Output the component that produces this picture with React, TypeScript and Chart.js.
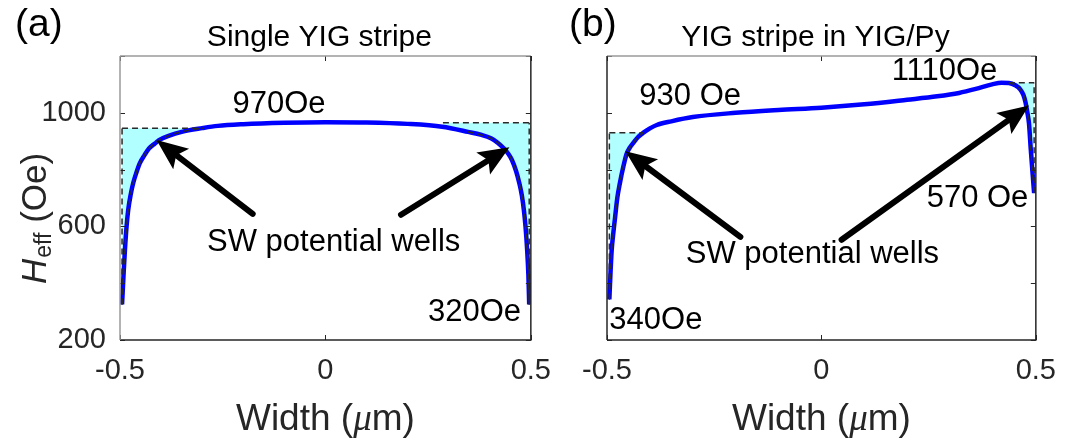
import React, { useEffect, useRef } from "react";
import { Chart, registerables } from "chart.js";

Chart.register(...registerables);

const FONT = '"Liberation Sans", Arial, Helvetica, sans-serif';
const SERIF = '"Liberation Serif", "Times New Roman", serif';

// axes
const xTickValues = [-0.5, 0, 0.5];
const yTickValues = [200, 400, 600, 800, 1000, 1200];
const yTickLabels = [200, 600, 1000];

// panel (a): single YIG stripe
const singleX = [-0.495, -0.491, -0.488, -0.484, -0.48, -0.474, -0.468, -0.46, -0.452, -0.44, -0.429, -0.415, -0.405, -0.38, -0.35, -0.3, -0.262, -0.2, -0.1, 0, 0.1, 0.2, 0.284, 0.347, 0.38, 0.403, 0.42, 0.434, 0.445, 0.454, 0.464, 0.472, 0.478, 0.483, 0.487, 0.491, 0.494, 0.496];
const singleH = [325, 440, 517, 600, 658, 712, 752, 790, 822, 852, 875, 892, 904, 920, 933, 946, 954, 960, 965, 967, 966, 961, 951, 933, 922, 910, 894, 875, 856, 834, 795, 752, 710, 658, 600, 517, 430, 325];
const singleWellStart = [-0.495, 0.286];
const singleWellEnd = [-0.296, 0.496];
const singleWellTop = [946, 965];
const singleNotes = ["970Oe", "SW potential wells", "320Oe"];
const singleNoteX = [-0.113, 0.02, 0.363];
const singleNoteY = [1031, 545, 298];
const singleArrowFromX = [-0.177, 0.184];
const singleArrowFromY = [644, 641];
const singleArrowToX = [-0.411, 0.448];
const singleArrowToY = [904, 879];

// panel (b): YIG stripe in YIG/Py
const pyX = [-0.4945, -0.492, -0.489, -0.485, -0.481, -0.476, -0.47, -0.462, -0.454, -0.447, -0.439, -0.428, -0.415, -0.4, -0.384, -0.35, -0.3, -0.2, -0.1, 0, 0.1, 0.2, 0.27, 0.321, 0.36, 0.398, 0.42, 0.437, 0.452, 0.464, 0.471, 0.476, 0.48, 0.484, 0.488, 0.493, 0.496];
const pyH = [343, 430, 517, 580, 634, 700, 752, 810, 857, 877, 893, 914, 930, 945, 957, 970, 985, 1000, 1010, 1018, 1030, 1046, 1058, 1070, 1084, 1100, 1106, 1105, 1097, 1082, 1063, 1036, 1003, 963, 875, 775, 717];
const pyWellStart = [-0.4945, 0.437];
const pyWellEnd = [-0.415, 0.496];
const pyWellTop = [930, 1106];
const pyNotes = ["930 Oe", "1110Oe", "570 Oe", "340Oe", "SW potential wells"];
const pyNoteX = [-0.306, 0.287, 0.364, -0.386, -0.021];
const pyNoteY = [1056, 1147, 697, 270, 500];
const pyArrowFromX = [-0.189, 0.047];
const pyArrowFromY = [563, 553];
const pyArrowToX = [-0.457, 0.484];
const pyArrowToY = [865, 1026];

const BLUE = "#0000ff";
const CYAN = "rgb(178,255,255)";
const DASH = "#2a2a2a";
const AXIS = "#262626";

type Panel = {
  letter: string;
  title: string;
  xs: number[];
  hs: number[];
  wellStart: number[];
  wellEnd: number[];
  wellTop: number[];
  notes: string[];
  noteX: number[];
  noteY: number[];
  arrowFromX: number[];
  arrowFromY: number[];
  arrowToX: number[];
  arrowToY: number[];
  showYLabels: boolean;
  leftBorderColor: string;
  yAxisWidth: number;
  xAxisHeight: number;
  padding: { left: number; right: number; top: number; bottom: number };
  letterX: number;
};

const panelA: Panel = {
  letter: "(a)",
  title: "Single YIG stripe",
  xs: singleX,
  hs: singleH,
  wellStart: singleWellStart,
  wellEnd: singleWellEnd,
  wellTop: singleWellTop,
  notes: singleNotes,
  noteX: singleNoteX,
  noteY: singleNoteY,
  arrowFromX: singleArrowFromX,
  arrowFromY: singleArrowFromY,
  arrowToX: singleArrowToX,
  arrowToY: singleArrowToY,
  showYLabels: true,
  leftBorderColor: "#9a9a9a",
  yAxisWidth: 120,
  xAxisHeight: 102,
  padding: { left: 0, right: 24, top: 56, bottom: 0 },
  letterX: 15,
};

const panelB: Panel = {
  letter: "(b)",
  title: "YIG stripe in YIG/Py",
  xs: pyX,
  hs: pyH,
  wellStart: pyWellStart,
  wellEnd: pyWellEnd,
  wellTop: pyWellTop,
  notes: pyNotes,
  noteX: pyNoteX,
  noteY: pyNoteY,
  arrowFromX: pyArrowFromX,
  arrowFromY: pyArrowFromY,
  arrowToX: pyArrowToX,
  arrowToY: pyArrowToY,
  showYLabels: false,
  leftBorderColor: AXIS,
  yAxisWidth: 42,
  xAxisHeight: 102,
  padding: { left: 0, right: 33, top: 56, bottom: 0 },
  letterX: 4,
};

function drawArrow(ctx: CanvasRenderingContext2D, x0: number, y0: number, x1: number, y1: number) {
  const ang = Math.atan2(y1 - y0, x1 - x0);
  const c = Math.cos(ang);
  const s = Math.sin(ang);
  const headLen = 31;
  const headW = 26;
  const bx = x1 - headLen * c;
  const by = y1 - headLen * s;
  const nx = x1 - headLen * 0.8 * c;
  const ny = y1 - headLen * 0.8 * s;
  ctx.save();
  ctx.strokeStyle = "#000";
  ctx.fillStyle = "#000";
  ctx.lineWidth = 6;
  ctx.lineCap = "round";
  ctx.beginPath();
  ctx.moveTo(x0, y0);
  ctx.lineTo(nx, ny);
  ctx.stroke();
  ctx.beginPath();
  ctx.moveTo(x1, y1);
  ctx.lineTo(bx - (headW / 2) * s, by + (headW / 2) * c);
  ctx.lineTo(nx, ny);
  ctx.lineTo(bx + (headW / 2) * s, by - (headW / 2) * c);
  ctx.closePath();
  ctx.fill();
  ctx.restore();
}

const decorPlugin = {
  id: "decor",
  afterDraw(chart: any, _args: any, opts: any) {
    const p: Panel = opts.panel;
    const { ctx, chartArea: a } = chart;
    const xs = chart.scales.x;
    const ys = chart.scales.y;
    ctx.save();

    // inward tick marks on all four sides
    ctx.strokeStyle = AXIS;
    ctx.lineWidth = 1;
    const tl = 5;
    ctx.beginPath();
    xs.ticks.forEach((t: any) => {
      const px = Math.round(xs.getPixelForValue(t.value)) + 0.5;
      ctx.moveTo(px, a.bottom);
      ctx.lineTo(px, a.bottom - tl);
      ctx.moveTo(px, a.top);
      ctx.lineTo(px, a.top + tl);
    });
    ys.ticks.forEach((t: any) => {
      const py = Math.round(ys.getPixelForValue(t.value)) + 0.5;
      ctx.moveTo(a.left, py);
      ctx.lineTo(a.left + tl, py);
      ctx.moveTo(a.right, py);
      ctx.lineTo(a.right - tl, py);
    });
    ctx.stroke();

    // box
    ctx.lineWidth = 1.5;
    ctx.strokeStyle = "#9a9a9a";
    ctx.beginPath();
    ctx.moveTo(a.left, a.top);
    ctx.lineTo(a.right, a.top);
    ctx.stroke();
    ctx.strokeStyle = AXIS;
    ctx.beginPath();
    ctx.moveTo(a.right, a.top);
    ctx.lineTo(a.right, a.bottom);
    ctx.lineTo(a.left, a.bottom);
    ctx.stroke();
    ctx.strokeStyle = p.leftBorderColor;
    ctx.beginPath();
    ctx.moveTo(a.left, a.bottom);
    ctx.lineTo(a.left, a.top);
    ctx.stroke();

    // arrows
    p.arrowFromX.forEach((fx, i) => {
      drawArrow(
        ctx,
        xs.getPixelForValue(fx),
        ys.getPixelForValue(p.arrowFromY[i]),
        xs.getPixelForValue(p.arrowToX[i]),
        ys.getPixelForValue(p.arrowToY[i])
      );
    });

    // annotations
    ctx.fillStyle = "#000";
    ctx.font = `31px ${FONT}`;
    ctx.textAlign = "center";
    ctx.textBaseline = "middle";
    p.notes.forEach((txt, i) => {
      ctx.fillText(txt, xs.getPixelForValue(p.noteX[i]), ys.getPixelForValue(p.noteY[i]));
    });

    // title
    ctx.textBaseline = "alphabetic";
    ctx.font = `30px ${FONT}`;
    ctx.fillText(p.title, (a.left + a.right) / 2 - 6, 46);

    // panel letter
    ctx.textAlign = "left";
    ctx.font = `39px ${FONT}`;
    ctx.fillText(p.letter, p.letterX, 36);

    // x axis label: Width (μm)
    ctx.fillStyle = AXIS;
    const f1 = `37px ${FONT}`;
    const f2 = `italic 37px ${SERIF}`;
    const parts: [string, string][] = [["Width (", f1], ["\u03bc", f2], ["m)", f1]];
    let total = 0;
    const widths = parts.map(([t, f]) => {
      ctx.font = f;
      const w = ctx.measureText(t).width;
      total += w;
      return w;
    });
    let cx = (a.left + a.right) / 2 - total / 2;
    parts.forEach(([t, f], i) => {
      ctx.font = f;
      ctx.fillText(t, cx, 430);
      cx += widths[i];
    });

    // y axis label: H_eff (Oe)
    if (p.showYLabels) {
      ctx.save();
      ctx.translate(46, 284);
      ctx.rotate(-Math.PI / 2);
      ctx.textAlign = "left";
      ctx.font = `italic 35px ${FONT}`;
      ctx.fillText("H", 0, 0);
      let u = ctx.measureText("H").width + 1;
      ctx.font = `23px ${FONT}`;
      ctx.fillText("eff", u, 5);
      u += ctx.measureText("eff").width;
      ctx.font = `35px ${FONT}`;
      ctx.fillText(" (Oe)", u, 0);
      ctx.restore();
    }
    ctx.restore();
  },
};

function buildConfig(p: Panel): any {
  const pts = p.xs.map((x, i) => ({ x, y: p.hs[i] }));
  const datasets: any[] = [
    {
      data: pts,
      borderColor: BLUE,
      borderWidth: 4.5,
      pointRadius: 0,
      cubicInterpolationMode: "monotone",
      fill: false,
      order: 1,
    },
  ];
  p.wellStart.forEach((s, i) => {
    const e = p.wellEnd[i];
    const top = p.wellTop[i];
    const outer = Math.abs(s) > Math.abs(e) ? s : e;
    const edgeH = outer === s ? p.hs[0] : p.hs[p.hs.length - 1];
    datasets.push({
      data: [
        { x: s, y: top },
        { x: e, y: top },
      ],
      borderColor: DASH,
      borderWidth: 1.5,
      borderDash: [6, 4],
      pointRadius: 0,
      fill: 0,
      backgroundColor: CYAN,
      order: 0,
    });
    datasets.push({
      data: [
        { x: outer, y: edgeH },
        { x: outer, y: top },
      ],
      borderColor: DASH,
      borderWidth: 1.5,
      borderDash: [6, 4],
      pointRadius: 0,
      fill: false,
      order: 0,
    });
    datasets.push({
      data: pts.filter((q) => q.x >= s - 1e-9 && q.x <= e + 1e-9),
      borderColor: DASH,
      borderWidth: 1.5,
      borderDash: [6, 4],
      pointRadius: 0,
      cubicInterpolationMode: "monotone",
      fill: false,
      order: 0,
    });
  });

  return {
    type: "line",
    data: { datasets },
    options: {
      animation: false,
      responsive: false,
      devicePixelRatio: 1,
      events: [],
      layout: { padding: p.padding },
      plugins: {
        legend: { display: false },
        tooltip: { enabled: false },
        filler: { drawTime: "beforeDatasetsDraw" },
        decor: { panel: p },
      },
      scales: {
        x: {
          type: "linear",
          min: -0.5,
          max: 0.5,
          afterBuildTicks: (s: any) => {
            s.ticks = xTickValues.map((v) => ({ value: v }));
          },
          afterFit: (s: any) => {
            s.height = p.xAxisHeight;
          },
          grid: { display: false, drawTicks: false },
          border: { display: false },
          ticks: {
            font: { family: FONT, size: 29 },
            color: AXIS,
            padding: 14,
            maxRotation: 0,
            autoSkip: false,
            callback: (v: number) => String(v),
          },
        },
        y: {
          type: "linear",
          min: 200,
          max: 1200,
          afterBuildTicks: (s: any) => {
            s.ticks = yTickValues.map((v) => ({ value: v }));
          },
          afterFit: (s: any) => {
            s.width = p.yAxisWidth;
          },
          grid: { display: false, drawTicks: false },
          border: { display: false },
          ticks: {
            display: p.showYLabels,
            font: { family: FONT, size: 29 },
            color: AXIS,
            padding: 14,
            autoSkip: false,
            callback: (v: number) => (yTickLabels.includes(v) ? String(v) : ""),
          },
        },
      },
    },
    plugins: [decorPlugin],
  };
}

export default function App() {
  const refA = useRef<HTMLCanvasElement>(null);
  const refB = useRef<HTMLCanvasElement>(null);
  useEffect(() => {
    const a = new Chart(refA.current as HTMLCanvasElement, buildConfig(panelA));
    const b = new Chart(refB.current as HTMLCanvasElement, buildConfig(panelB));
    return () => {
      a.destroy();
      b.destroy();
    };
  }, []);
  return (
    <div style={{ position: "absolute", left: 0, top: 0, width: 1070, height: 442, background: "#fff" }}>
      <canvas ref={refA} width={565} height={442} style={{ position: "absolute", left: 0, top: 0, width: 565, height: 442 }} />
      <canvas ref={refB} width={505} height={442} style={{ position: "absolute", left: 565, top: 0, width: 505, height: 442 }} />
    </div>
  );
}
